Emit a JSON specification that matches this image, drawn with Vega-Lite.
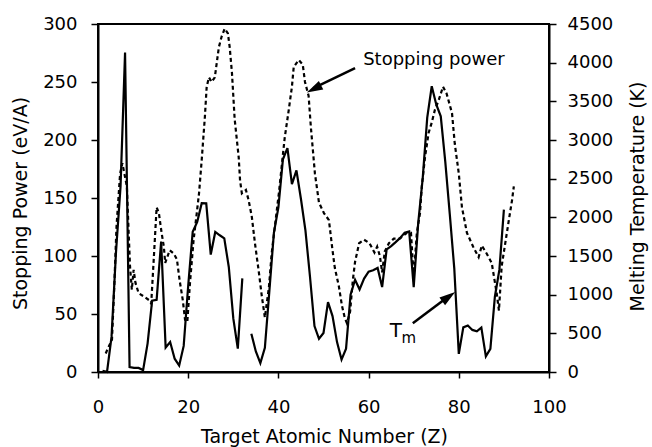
{
  "$schema": "https://vega.github.io/schema/vega-lite/v6.json",
  "width": 451,
  "height": 348,
  "autosize": "none",
  "padding": {"left": 98, "top": 24, "right": 103, "bottom": 75},
  "background": "white",
  "config": {
    "font": "DejaVu Sans",
    "view": {"stroke": "black", "strokeWidth": 2},
    "axis": {
      "grid": false,
      "domainColor": "black",
      "domainWidth": 2,
      "tickColor": "black",
      "tickWidth": 1.5,
      "labelColor": "black",
      "titleColor": "black",
      "labelFont": "DejaVu Sans",
      "titleFont": "DejaVu Sans",
      "labelFontSize": 18,
      "titleFontSize": 19,
      "titleFontWeight": "normal",
      "labelFlush": false
    }
  },
  "datasets": {
    "stopping": [
      {"z": 1.7, "sp": 16}, {"z": 3.1, "sp": 28}, {"z": 3.6, "sp": 73}, {"z": 4.1, "sp": 125},
      {"z": 4.5, "sp": 148}, {"z": 4.9, "sp": 171}, {"z": 5.4, "sp": 180}, {"z": 6.4, "sp": 160},
      {"z": 6.8, "sp": 120}, {"z": 7.1, "sp": 91}, {"z": 7.5, "sp": 71}, {"z": 7.9, "sp": 88},
      {"z": 8.3, "sp": 77}, {"z": 9.0, "sp": 68}, {"z": 10.2, "sp": 65}, {"z": 11.3, "sp": 62},
      {"z": 11.8, "sp": 59}, {"z": 12.4, "sp": 100}, {"z": 13.0, "sp": 142}, {"z": 13.5, "sp": 137},
      {"z": 14.1, "sp": 120}, {"z": 14.6, "sp": 108}, {"z": 14.9, "sp": 94}, {"z": 15.9, "sp": 105},
      {"z": 16.8, "sp": 102}, {"z": 17.5, "sp": 97}, {"z": 18.1, "sp": 79}, {"z": 18.8, "sp": 62},
      {"z": 19.3, "sp": 45}, {"z": 19.8, "sp": 43}, {"z": 20.4, "sp": 77}, {"z": 21.2, "sp": 114},
      {"z": 21.9, "sp": 137}, {"z": 22.4, "sp": 154}, {"z": 23.0, "sp": 183}, {"z": 23.7, "sp": 220},
      {"z": 24.1, "sp": 246}, {"z": 24.6, "sp": 254}, {"z": 25.2, "sp": 250}, {"z": 25.9, "sp": 254},
      {"z": 26.8, "sp": 280}, {"z": 27.4, "sp": 289}, {"z": 28.1, "sp": 296}, {"z": 28.8, "sp": 292},
      {"z": 29.2, "sp": 280}, {"z": 29.7, "sp": 258}, {"z": 30.3, "sp": 218}, {"z": 31.2, "sp": 185},
      {"z": 31.5, "sp": 165}, {"z": 31.9, "sp": 154}, {"z": 32.8, "sp": 157}, {"z": 33.4, "sp": 148},
      {"z": 34.1, "sp": 134}, {"z": 34.8, "sp": 111}, {"z": 35.7, "sp": 85}, {"z": 36.3, "sp": 66},
      {"z": 37.0, "sp": 47}, {"z": 37.9, "sp": 73}, {"z": 38.5, "sp": 102}, {"z": 39.2, "sp": 125},
      {"z": 40.1, "sp": 154}, {"z": 40.8, "sp": 180}, {"z": 41.4, "sp": 202}, {"z": 42.3, "sp": 226},
      {"z": 43.0, "sp": 246}, {"z": 43.4, "sp": 263}, {"z": 44.5, "sp": 269}, {"z": 45.4, "sp": 265},
      {"z": 45.9, "sp": 250}, {"z": 46.7, "sp": 238}, {"z": 47.2, "sp": 211}, {"z": 48.1, "sp": 171},
      {"z": 49.0, "sp": 146}, {"z": 50.1, "sp": 137}, {"z": 51.2, "sp": 131}, {"z": 51.9, "sp": 108},
      {"z": 52.5, "sp": 90}, {"z": 53.4, "sp": 74}, {"z": 54.1, "sp": 57}, {"z": 54.7, "sp": 47},
      {"z": 55.2, "sp": 42}, {"z": 55.9, "sp": 52}, {"z": 56.5, "sp": 79}, {"z": 57.0, "sp": 95},
      {"z": 57.9, "sp": 111}, {"z": 59.0, "sp": 114}, {"z": 60.2, "sp": 111}, {"z": 61.3, "sp": 103},
      {"z": 61.9, "sp": 108}, {"z": 62.5, "sp": 100}, {"z": 63.0, "sp": 86}, {"z": 63.6, "sp": 104},
      {"z": 64.5, "sp": 111}, {"z": 65.6, "sp": 115}, {"z": 66.9, "sp": 115}, {"z": 68.5, "sp": 120},
      {"z": 69.4, "sp": 120}, {"z": 70.0, "sp": 82}, {"z": 70.7, "sp": 120}, {"z": 71.4, "sp": 137},
      {"z": 71.8, "sp": 160}, {"z": 72.5, "sp": 185}, {"z": 73.3, "sp": 206}, {"z": 74.0, "sp": 215},
      {"z": 74.7, "sp": 226}, {"z": 75.6, "sp": 235}, {"z": 76.5, "sp": 246}, {"z": 77.3, "sp": 240},
      {"z": 78.5, "sp": 223}, {"z": 79.1, "sp": 197}, {"z": 80.0, "sp": 171}, {"z": 80.7, "sp": 142},
      {"z": 81.8, "sp": 120}, {"z": 83.3, "sp": 107}, {"z": 84.4, "sp": 99}, {"z": 85.1, "sp": 109},
      {"z": 86.2, "sp": 102}, {"z": 87.3, "sp": 94}, {"z": 88.4, "sp": 68}, {"z": 88.9, "sp": 53},
      {"z": 89.5, "sp": 91}, {"z": 91.1, "sp": 131}, {"z": 91.8, "sp": 148}, {"z": 92.2, "sp": 160}
    ],
    "melting": [
      {"z": 1, "tm": 14, "seg": "a"}, {"z": 2, "tm": 1, "seg": "a"}, {"z": 3, "tm": 454, "seg": "a"},
      {"z": 4, "tm": 1560, "seg": "a"}, {"z": 5, "tm": 2400, "seg": "a"}, {"z": 6, "tm": 4130, "seg": "a"},
      {"z": 7, "tm": 63, "seg": "a"}, {"z": 8, "tm": 54, "seg": "a"}, {"z": 9, "tm": 53, "seg": "a"},
      {"z": 10, "tm": 25, "seg": "a"}, {"z": 11, "tm": 371, "seg": "a"}, {"z": 12, "tm": 923, "seg": "a"},
      {"z": 13, "tm": 933, "seg": "a"}, {"z": 14, "tm": 1687, "seg": "a"}, {"z": 15, "tm": 317, "seg": "a"},
      {"z": 16, "tm": 388, "seg": "a"}, {"z": 17, "tm": 172, "seg": "a"}, {"z": 18, "tm": 84, "seg": "a"},
      {"z": 19, "tm": 337, "seg": "a"}, {"z": 20, "tm": 1115, "seg": "a"}, {"z": 21, "tm": 1814, "seg": "a"},
      {"z": 22, "tm": 1941, "seg": "a"}, {"z": 23, "tm": 2183, "seg": "a"}, {"z": 24, "tm": 2180, "seg": "a"},
      {"z": 25, "tm": 1519, "seg": "a"}, {"z": 26, "tm": 1811, "seg": "a"}, {"z": 27, "tm": 1768, "seg": "a"},
      {"z": 28, "tm": 1728, "seg": "a"}, {"z": 29, "tm": 1358, "seg": "a"}, {"z": 30, "tm": 693, "seg": "a"},
      {"z": 31, "tm": 303, "seg": "a"}, {"z": 32, "tm": 1211, "seg": "a"},
      {"z": 34, "tm": 494, "seg": "b"}, {"z": 35, "tm": 266, "seg": "b"}, {"z": 36, "tm": 116, "seg": "b"},
      {"z": 37, "tm": 312, "seg": "b"}, {"z": 38, "tm": 1050, "seg": "b"}, {"z": 39, "tm": 1799, "seg": "b"},
      {"z": 40, "tm": 2128, "seg": "b"}, {"z": 41, "tm": 2750, "seg": "b"}, {"z": 42, "tm": 2896, "seg": "b"},
      {"z": 43, "tm": 2430, "seg": "b"}, {"z": 44, "tm": 2607, "seg": "b"}, {"z": 45, "tm": 2237, "seg": "b"},
      {"z": 46, "tm": 1828, "seg": "b"}, {"z": 47, "tm": 1235, "seg": "b"}, {"z": 48, "tm": 594, "seg": "b"},
      {"z": 49, "tm": 430, "seg": "b"}, {"z": 50, "tm": 505, "seg": "b"}, {"z": 51, "tm": 904, "seg": "b"},
      {"z": 52, "tm": 723, "seg": "b"}, {"z": 53, "tm": 387, "seg": "b"}, {"z": 54, "tm": 161, "seg": "b"},
      {"z": 55, "tm": 302, "seg": "b"}, {"z": 56, "tm": 1000, "seg": "b"}, {"z": 57, "tm": 1193, "seg": "b"},
      {"z": 58, "tm": 1068, "seg": "b"}, {"z": 59, "tm": 1208, "seg": "b"}, {"z": 60, "tm": 1297, "seg": "b"},
      {"z": 61, "tm": 1315, "seg": "b"}, {"z": 62, "tm": 1345, "seg": "b"}, {"z": 63, "tm": 1099, "seg": "b"},
      {"z": 64, "tm": 1585, "seg": "b"}, {"z": 65, "tm": 1629, "seg": "b"}, {"z": 66, "tm": 1680, "seg": "b"},
      {"z": 67, "tm": 1734, "seg": "b"}, {"z": 68, "tm": 1802, "seg": "b"}, {"z": 69, "tm": 1818, "seg": "b"},
      {"z": 70, "tm": 1097, "seg": "b"}, {"z": 71, "tm": 1925, "seg": "b"}, {"z": 72, "tm": 2506, "seg": "b"},
      {"z": 73, "tm": 3290, "seg": "b"}, {"z": 74, "tm": 3695, "seg": "b"}, {"z": 75, "tm": 3459, "seg": "b"},
      {"z": 76, "tm": 3306, "seg": "b"}, {"z": 77, "tm": 2719, "seg": "b"}, {"z": 78, "tm": 2041, "seg": "b"},
      {"z": 79, "tm": 1337, "seg": "b"}, {"z": 80, "tm": 234, "seg": "b"}, {"z": 81, "tm": 577, "seg": "b"},
      {"z": 82, "tm": 601, "seg": "b"}, {"z": 83, "tm": 544, "seg": "b"}, {"z": 84, "tm": 527, "seg": "b"},
      {"z": 85, "tm": 575, "seg": "b"}, {"z": 86, "tm": 202, "seg": "b"}, {"z": 87, "tm": 300, "seg": "b"},
      {"z": 88, "tm": 973, "seg": "b"}, {"z": 89, "tm": 1323, "seg": "b"}, {"z": 90, "tm": 2100, "seg": "b"}
    ],
    "arrows": [
      {"arrow": "sp", "z": 57.0, "sp": 262},
      {"arrow": "sp", "z": 47.9, "sp": 245},
      {"arrow": "tm", "z": 69.8, "sp": 42},
      {"arrow": "tm", "z": 77.7, "sp": 65}
    ]
  },
  "layer": [
    {
      "layer": [
        {
          "data": {"name": "stopping"},
          "mark": {"type": "line", "color": "black", "strokeWidth": 2.2, "strokeDash": [4, 3]},
          "encoding": {
            "x": {
              "field": "z", "type": "quantitative",
              "scale": {"domain": [0, 100], "nice": false},
              "axis": {
                "values": [0, 20, 40, 60, 80, 100],
                "title": "Target Atomic Number (Z)",
                "tickSize": 6,
                "labelPadding": 20,
                "titleX": 226, "titleY": 70,
                "titleAlign": "center", "titleBaseline": "alphabetic"
              }
            },
            "y": {
              "field": "sp", "type": "quantitative",
              "scale": {"domain": [0, 300], "nice": false},
              "axis": {
                "values": [0, 50, 100, 150, 200, 250, 300],
                "title": "Stopping Power (eV/A)",
                "tickSize": 7,
                "labelPadding": 14,
                "titleAngle": 270,
                "titleAlign": "center", "titleBaseline": "middle",
                "titleX": -78, "titleY": 179
              }
            }
          }
        },
        {
          "data": {"name": "arrows"},
          "mark": {"type": "line", "color": "black", "strokeWidth": 2.5},
          "encoding": {
            "x": {"field": "z", "type": "quantitative"},
            "y": {"field": "sp", "type": "quantitative"},
            "detail": {"field": "arrow"}
          }
        },
        {
          "data": {"values": [{"z": 46.3, "sp": 241}]},
          "mark": {"type": "point", "shape": "M0,0L0.6,2L-0.6,2Z", "size": 256, "angle": 243, "filled": true, "color": "black", "opacity": 1},
          "encoding": {
            "x": {"field": "z", "type": "quantitative"},
            "y": {"field": "sp", "type": "quantitative"}
          }
        },
        {
          "data": {"values": [{"z": 79.2, "sp": 69}]},
          "mark": {"type": "point", "shape": "M0,0L0.6,2L-0.6,2Z", "size": 256, "angle": 54, "filled": true, "color": "black", "opacity": 1},
          "encoding": {
            "x": {"field": "z", "type": "quantitative"},
            "y": {"field": "sp", "type": "quantitative"}
          }
        },
        {
          "data": {"values": [{"z": 58.8, "sp": 265, "t": "Stopping power"}]},
          "mark": {"type": "text", "align": "left", "baseline": "alphabetic", "fontSize": 18, "color": "black"},
          "encoding": {
            "x": {"field": "z", "type": "quantitative"},
            "y": {"field": "sp", "type": "quantitative"},
            "text": {"field": "t"}
          }
        },
        {
          "data": {"values": [{"z": 64.7, "sp": 30, "t": "T"}]},
          "mark": {"type": "text", "align": "left", "baseline": "alphabetic", "fontSize": 20, "color": "black"},
          "encoding": {
            "x": {"field": "z", "type": "quantitative"},
            "y": {"field": "sp", "type": "quantitative"},
            "text": {"field": "t"}
          }
        },
        {
          "data": {"values": [{"z": 67.3, "sp": 25, "t": "m"}]},
          "mark": {"type": "text", "align": "left", "baseline": "alphabetic", "fontSize": 15, "color": "black"},
          "encoding": {
            "x": {"field": "z", "type": "quantitative"},
            "y": {"field": "sp", "type": "quantitative"},
            "text": {"field": "t"}
          }
        }
      ]
    },
    {
      "data": {"name": "melting"},
      "mark": {"type": "line", "color": "black", "strokeWidth": 2.2},
      "encoding": {
        "x": {"field": "z", "type": "quantitative", "scale": {"domain": [0, 100], "nice": false}},
        "y": {
          "field": "tm", "type": "quantitative",
          "scale": {"domain": [0, 4500], "nice": false},
          "axis": {
            "orient": "right",
            "values": [0, 500, 1000, 1500, 2000, 2500, 3000, 3500, 4000, 4500],
            "format": "d",
            "title": "Melting Temperature (K)",
            "tickSize": 7,
            "labelPadding": 11,
            "titleAngle": 270,
            "titleAlign": "center", "titleBaseline": "middle",
            "titleX": 88, "titleY": 172
          }
        },
        "detail": {"field": "seg"}
      }
    }
  ],
  "resolve": {"scale": {"y": "independent"}}
}
